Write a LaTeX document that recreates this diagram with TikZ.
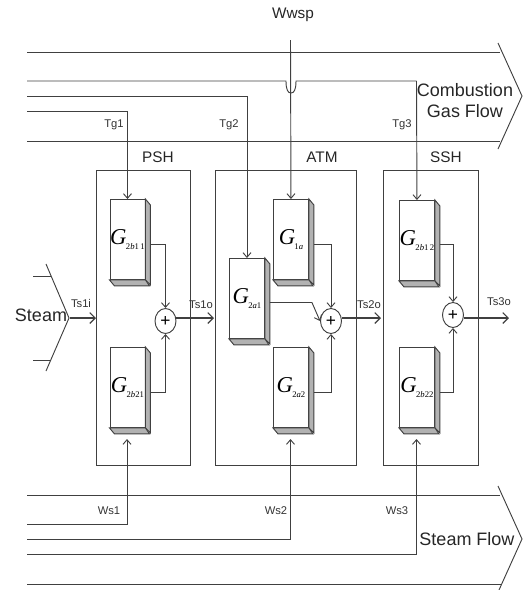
\documentclass[tikz,border=0pt]{standalone}
\usepackage{fontspec}
\setmainfont{Liberation Sans}
\newfontfamily\gfont{Liberation Serif}
\usetikzlibrary{shapes.geometric,arrows.meta}
\newcommand{\gname}[1]{{\gfont\fontsize{17}{17}\selectfont\textit{G}\kern-0.5pt\raisebox{-4pt}{\fontsize{6.5}{6.5}\selectfont #1}}}
\tikzset{
	wire/.style={black!75,line width=0.7pt},
	tip/.style={wire,-{Straight Barb[length=3.5pt,width=6pt]}},
	bigtip/.style={wire,line width=0.9pt,-{Straight Barb[length=4pt,width=8pt]}},
	gblock/.style={draw=black!75,line width=0.7pt,fill=white,anchor=north west,inner sep=0pt,minimum width=26.25pt,minimum height=60pt},
	sumnode/.style={ellipse,draw=black!75,line width=0.7pt,fill=white,inner sep=0pt,minimum width=15.75pt,minimum height=18.75pt,font=\fontsize{13}{13}\selectfont},
	sectionbox/.style={draw=black!75,line width=0.7pt,anchor=north west,inner sep=0pt},
	small/.style={font=\fontsize{8.4}{10}\selectfont,black!80},
	head/.style={font=\fontsize{11.5}{13}\selectfont,black!85},
	big/.style={font=\fontsize{13.5}{16}\selectfont,black!85,align=center}
}
\begin{document}
\begin{tikzpicture}[x=0.75pt,y=-0.75pt]
	\useasboundingbox (0,0) rectangle (526,590);
	% sections
	\node[sectionbox,minimum width=70.5pt,minimum height=221.25pt] (psh) at (96,170) {};
	\node[sectionbox,minimum width=105.75pt,minimum height=221.25pt] (atm) at (215,170) {};
	\node[sectionbox,minimum width=71.25pt,minimum height=221.25pt] (ssh) at (382.5,170) {};
	\node[head] (pshl) at (158,157) {PSH};
	\node[head] (atml) at (322,157) {ATM};
	\node[head] (sshl) at (446,157) {SSH};
	% blocks
	\foreach \n/\x/\y/\t in {g2b11/109.5/199/{2\textit{b}1\,1},g2b21/109.5/347/{2\textit{b}21},g1a/273/199/{1\textit{a}},g2a2/273/347/{2\textit{a}2},g2b12/399/200/{2\textit{b}1\,2},g2b22/399/347/{2\textit{b}22},g2a1/229/258/{2\textit{a}1}}{
		\node[gblock] (\n) at (\x,\y) {\gname{\t}};
		\draw[wire,fill=black!30] (\n.north east)--++(5,6)--++(0,80)--(\n.south east)--cycle;
		\draw[wire,fill=black!30] (\n.south west)--++(5,6)--++(35,0)--(\n.south east)--cycle;
	};
	% adders
	\node[sumnode] (s1) at (165.5,321) {+};
	\node[sumnode] (s2) at (331,321) {+};
	\node[sumnode] (s3) at (453,315) {+};
	\draw[tip] (g2b11.east)++(5,5)-|(s1.north);
	\draw[tip] (g2b21.east)++(5,5)-|(s1.south);
	\draw[tip] (g1a.east)++(5,5)-|(s2.north);
	\draw[tip] (g2a2.east)++(5,5)-|(s2.south);
	\draw[tip] (g2b12.east)++(5,4)-|(s3.north);
	\draw[tip] (g2b22.east)++(5,5)-|(s3.south);
	\draw[tip] (g2a1.east)++(5,4)--++(42,0)--(s2.west);
	% combustion gas flow
	\coordinate (gt) at (27,52);
	\coordinate (gb) at (27,141);
	\coordinate (gtip) at (522,96);
	\draw[wire] (gt)--(500,52);
	\draw[wire] (gb)--(500,141);
	\draw[wire] (498,43)--(gtip)--(498,149);
	\node[big] (gasl) at (465,100.5) {Combustion\\Gas Flow};
	\coordinate (tg1) at (27,111);
	\coordinate (tg2) at (27,96.5);
	\coordinate (tg3) at (27,81);
	\draw[tip] (tg1)-|(g2b11.north);
	\draw[tip] (tg2)-|(g2a1.north);
	\draw[wire] (tg3)--(286,81)..controls (286,90) and (288,93)..(291,93)..controls (294,93) and (296,90)..(296,81)--(416.5,81);
	\draw[tip] (416.5,81)--(g2b12.north);
	\node[small] (tg1l) at (114,125) {Tg1};
	\node[small] (tg2l) at (229,125) {Tg2};
	\node[small] (tg3l) at (402,125) {Tg3};
	% water spray
	\node[head] (wwsp) at (293,15) {Wwsp};
	\coordinate (wtop) at (290.5,40);
	\draw[tip] (wtop)--(g1a.north);
	% steam in
	\coordinate (stip) at (69,318);
	\draw[wire] (46,264)--(stip)--(46,371);
	\draw[wire] (33,276)--(51,276);
	\draw[wire] (33,360)--(50,360);
	\node[big] (steam) at (41,315) {Steam};
	\draw[bigtip] (stip)++(1,0)--(psh.west|-stip);
	\node[small] (ts1i) at (81,303) {Ts1i};
	% outlets
	\coordinate (ts1e) at (214,318);
	\coordinate (ts2e) at (381,318);
	\coordinate (ts3e) at (509,318);
	\draw[bigtip] (s1.east|-ts1e)--(ts1e);
	\draw[bigtip] (s2.east|-ts2e)--(ts2e);
	\draw[bigtip] (s3.east|-ts3e)--(ts3e);
	\node[small] (ts1o) at (201,305) {Ts1o};
	\node[small] (ts2o) at (369,305) {Ts2o};
	\node[small] (ts3o) at (499,302) {Ts3o};
	% steam flow
	\coordinate (ft) at (27,495);
	\coordinate (fb) at (27,584);
	\coordinate (ftip) at (522,539);
	\draw[wire] (ft)--(500,495);
	\draw[wire] (fb)--(502,584);
	\draw[wire] (498,486)--(ftip)--(499,590);
	\node[big] (flowl) at (467,539) {Steam Flow};
	\coordinate (ws1) at (27,524);
	\coordinate (ws2) at (27,539);
	\coordinate (ws3) at (27,554);
	\coordinate (ws1e) at (127,439);
	\coordinate (ws2e) at (290.5,439);
	\coordinate (ws3e) at (416.5,439);
	\draw[tip] (ws1)-|(ws1e);
	\draw[tip] (ws2)-|(ws2e);
	\draw[tip] (ws3)-|(ws3e);
	\node[small] (ws1l) at (109,511) {Ws1};
	\node[small] (ws2l) at (276,511) {Ws2};
	\node[small] (ws3l) at (397,511) {Ws3};
\end{tikzpicture}
\end{document}
